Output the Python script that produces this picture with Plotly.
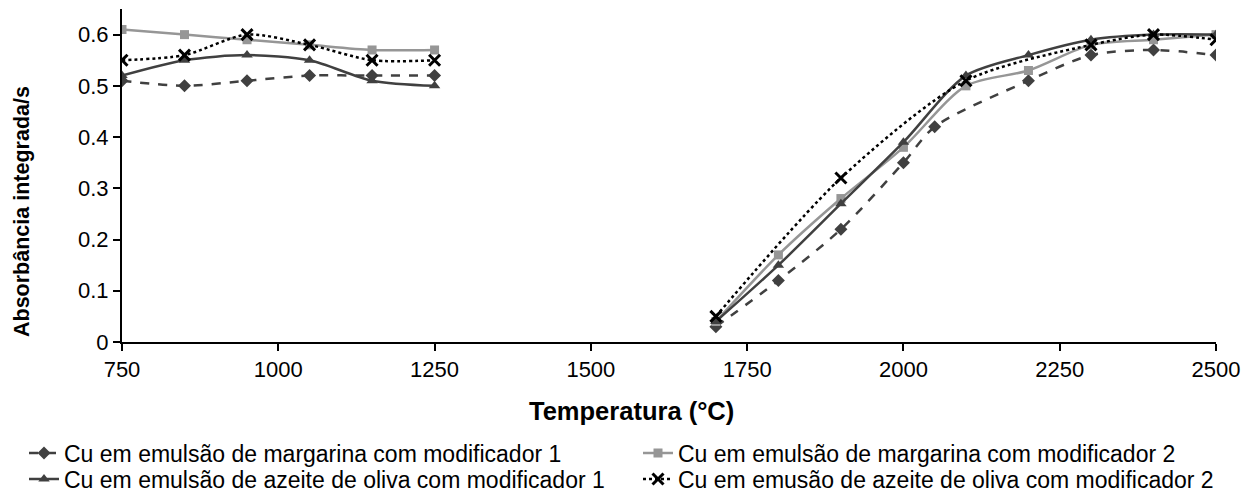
import plotly.graph_objects as go

# Temperatures (°C)
x_marg1 = [750, 850, 950, 1050, 1150, 1250, None, 1700, 1800, 1900, 2000, 2050, 2200, 2300, 2400, 2500]
y_marg1 = [0.51, 0.50, 0.51, 0.52, 0.52, 0.52, None, 0.03, 0.12, 0.22, 0.35, 0.42, 0.51, 0.56, 0.57, 0.56]

x_marg2 = [750, 850, 950, 1050, 1150, 1250, None, 1700, 1800, 1900, 2000, 2100, 2200, 2300, 2400, 2500]
y_marg2 = [0.61, 0.60, 0.59, 0.58, 0.57, 0.57, None, 0.04, 0.17, 0.28, 0.38, 0.50, 0.53, 0.58, 0.59, 0.60]

x_azei1 = [750, 850, 950, 1050, 1150, 1250, None, 1700, 1800, 1900, 2000, 2100, 2200, 2300, 2400, 2500]
y_azei1 = [0.52, 0.55, 0.56, 0.55, 0.51, 0.50, None, 0.04, 0.15, 0.27, 0.39, 0.52, 0.56, 0.59, 0.60, 0.60]

x_azei2 = [750, 850, 950, 1050, 1150, 1250, None, 1700, 1900, 2100, 2300, 2400, 2500]
y_azei2 = [0.55, 0.56, 0.60, 0.58, 0.55, 0.55, None, 0.05, 0.32, 0.51, 0.58, 0.60, 0.59]

names = [
    "Cu em emulsão de margarina com modificador 1",
    "Cu em emulsão de margarina com modificador 2",
    "Cu em emulsão de azeite de oliva com modificador 1",
    "Cu em emusão de azeite de oliva com modificador 2",
]

x_ticks = [750, 1000, 1250, 1500, 1750, 2000, 2250, 2500]
y_ticks = [0, 0.1, 0.2, 0.3, 0.4, 0.5, 0.6]

FONT = "Arial, Liberation Sans, sans-serif"
DARK = "#404040"
LIGHT = "#969696"

fig = go.Figure()
fig.add_trace(go.Scatter(
    x=x_marg1, y=y_marg1, name=names[0], mode="lines+markers", legend="legend",
    line=dict(color=DARK, width=2.5, dash="dash", shape="spline", smoothing=0.8),
    marker=dict(symbol="diamond", size=10, color=DARK),
))
fig.add_trace(go.Scatter(
    x=x_marg2, y=y_marg2, name=names[1], mode="lines+markers", legend="legend2",
    line=dict(color=LIGHT, width=2.5, shape="spline", smoothing=0.8),
    marker=dict(symbol="square", size=9, color=LIGHT),
))
fig.add_trace(go.Scatter(
    x=x_azei1, y=y_azei1, name=names[2], mode="lines+markers", legend="legend3",
    line=dict(color=DARK, width=2.5, shape="spline", smoothing=0.8),
    marker=dict(symbol="triangle-up", size=10, color=DARK),
))
fig.add_trace(go.Scatter(
    x=x_azei2, y=y_azei2, name=names[3], mode="lines+markers", legend="legend4",
    line=dict(color="#000000", width=2.5, dash="dot", shape="spline", smoothing=0.8),
    marker=dict(symbol="x-thin", size=11, color="#000000", line=dict(color="#000000", width=3)),
))

L, R, T, B = 122, 28, 9, 150
W, H = 1244, 492
pw = W - L - R
ph = H - T - B


def px_x(px):
    return (px - L) / pw


def px_y(py):
    return (ph + T - py) / ph


def leg(xpx, ypx):
    return dict(
        orientation="v",
        x=px_x(xpx), xanchor="left",
        y=px_y(ypx), yanchor="middle",
        font=dict(family=FONT, size=23, color="#000000"),
        itemwidth=30, bgcolor="rgba(0,0,0,0)",
    )


fig.update_layout(
    width=W, height=H,
    margin=dict(l=L, r=R, t=T, b=B, autoexpand=False),
    paper_bgcolor="white", plot_bgcolor="white",
    font=dict(family=FONT, size=22, color="#000000"),
    showlegend=True,
    legend=leg(24, 453),
    legend2=leg(638, 453),
    legend3=leg(24, 479),
    legend4=leg(638, 479),
    xaxis=dict(
        range=[750, 2500], tickvals=x_ticks, ticktext=[str(v) for v in x_ticks],
        showgrid=False, zeroline=False,
        showline=True, linecolor="#000000", linewidth=2,
        ticks="outside", ticklen=7, tickwidth=1.5, tickcolor="#000000",
        tickfont=dict(family=FONT, size=22, color="#000000"),
    ),
    yaxis=dict(
        range=[0, 0.65], tickvals=y_ticks, ticktext=["0", "0.1", "0.2", "0.3", "0.4", "0.5", "0.6"],
        showgrid=False, zeroline=False,
        showline=True, linecolor="#000000", linewidth=2,
        ticks="outside", ticklen=7, tickwidth=1.5, tickcolor="#000000",
        tickfont=dict(family=FONT, size=22, color="#000000"),
    ),
    annotations=[
        dict(text="<b>Temperatura (°C)</b>", xref="paper", yref="paper",
             x=px_x(631), y=px_y(411), xanchor="center", yanchor="middle",
             showarrow=False, font=dict(family=FONT, size=25.5, color="#000000")),
        dict(text="<b>Absorbância integrada/s</b>", xref="paper", yref="paper",
             x=px_x(22), y=px_y(212), xanchor="center", yanchor="middle",
             textangle=-90, showarrow=False, font=dict(family=FONT, size=21.5, color="#000000")),
    ],
)

fig.write_html("out.html")
